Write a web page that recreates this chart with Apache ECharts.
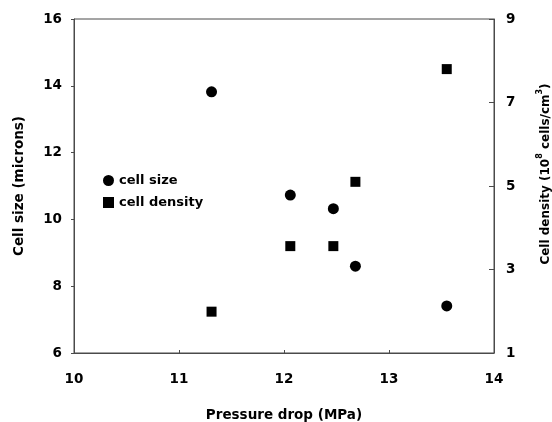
<!DOCTYPE html>
<html>
<head>
<meta charset="utf-8">
<script src="https://cdn.jsdelivr.net/npm/echarts@6/dist/echarts.min.js"></script>
<style>
html,body{margin:0;padding:0;background:#fff;}
#chart{width:552px;height:422px;}
</style>
</head>
<body>
<div id="chart"></div>
<script>
// Data
const pressureDrop = [11.31, 12.06, 12.47, 12.68, 13.55];
const cellSize = [13.82, 10.73, 10.32, 8.60, 7.41];
const cellDensity = [1.99, 3.56, 3.56, 5.10, 7.80];
const xTicks = [10, 11, 12, 13, 14];
const leftTicks = [6, 8, 10, 12, 14, 16];
const rightTicks = [1, 3, 5, 7, 9];

const FF = '"DejaVu Sans", "Liberation Sans", Arial, sans-serif';
const AX = '#4a4a4a';

const sizePairs = pressureDrop.map((x, i) => [x, cellSize[i]]);
const densPairs = pressureDrop.map((x, i) => [x, cellDensity[i]]);

const chart = echarts.init(document.getElementById('chart'), null, {renderer: 'canvas'});
chart.setOption({
  animation: false,
  backgroundColor: '#fff',
  grid: {left: 74, right: 58, top: 19, bottom: 69, containLabel: false, outerBoundsMode: 'none',
         show: true, borderColor: AX, borderWidth: 1, backgroundColor: 'transparent'},
  legend: {
    orient: 'vertical', left: 98, top: 169,
    itemWidth: 11, itemHeight: 11, itemGap: 9,
    textStyle: {fontFamily: FF, fontWeight: 'bold', fontSize: 13, color: '#000'},
    data: [
      {name: 'cell size', icon: 'circle'},
      {name: 'cell density', icon: 'rect'}
    ]
  },
  xAxis: {
    type: 'value', min: xTicks[0], max: xTicks[xTicks.length - 1], interval: 1,
    name: 'Pressure drop (MPa)', nameLocation: 'middle', nameGap: 55,
    nameTextStyle: {fontFamily: FF, fontWeight: 'bold', fontSize: 13.5, color: '#000'},
    axisLine: {lineStyle: {color: AX, width: 1}},
    axisTick: {inside: true, length: 3, lineStyle: {color: AX}},
    axisLabel: {fontFamily: FF, fontWeight: 'bold', fontSize: 13.5, color: '#000', margin: 19},
    splitLine: {show: false}
  },
  yAxis: [
    {
      type: 'value', position: 'left', min: leftTicks[0], max: leftTicks[leftTicks.length - 1], interval: 2,
      name: 'Cell size (microns)', nameLocation: 'middle', nameGap: 48,
      nameTextStyle: {fontFamily: FF, fontWeight: 'bold', fontSize: 13.5, color: '#000'},
      axisLine: {show: true, lineStyle: {color: AX, width: 1}},
      axisTick: {show: true, length: 3, lineStyle: {color: AX}},
      axisLabel: {fontFamily: FF, fontWeight: 'bold', fontSize: 13.5, color: '#000', margin: 12},
      splitLine: {show: false}
    },
    {
      type: 'value', position: 'right', min: rightTicks[0], max: rightTicks[rightTicks.length - 1], interval: 2,
      name: '{n|Cell density (10}{s|8}{n| cells/cm}{s|3}{n|)}', nameLocation: 'middle', nameGap: 42, nameRotate: 90,
      nameTextStyle: {
        fontFamily: FF, fontWeight: 'bold', fontSize: 12, color: '#000', padding: [0, 0, 0, 24],
        rich: {
          n: {fontFamily: FF, fontWeight: 'bold', fontSize: 12, color: '#000', lineHeight: 16, verticalAlign: 'bottom'},
          s: {fontFamily: FF, fontWeight: 'bold', fontSize: 8, color: '#000', lineHeight: 16, verticalAlign: 'top'}
        }
      },
      axisLine: {show: true, lineStyle: {color: AX, width: 1}},
      axisTick: {show: true, inside: true, length: 5, lineStyle: {color: AX}},
      axisLabel: {fontFamily: FF, fontWeight: 'bold', fontSize: 13.5, color: '#000', margin: 12},
      splitLine: {show: false}
    }
  ],
  series: [
    {
      name: 'cell size', type: 'scatter', yAxisIndex: 0, symbol: 'circle', symbolSize: 11,
      itemStyle: {color: '#000', opacity: 1}, data: sizePairs
    },
    {
      name: 'cell density', type: 'scatter', yAxisIndex: 1, symbol: 'rect', symbolSize: 10,
      itemStyle: {color: '#000', opacity: 1}, data: densPairs
    }
  ]
});
</script>
</body>
</html>
